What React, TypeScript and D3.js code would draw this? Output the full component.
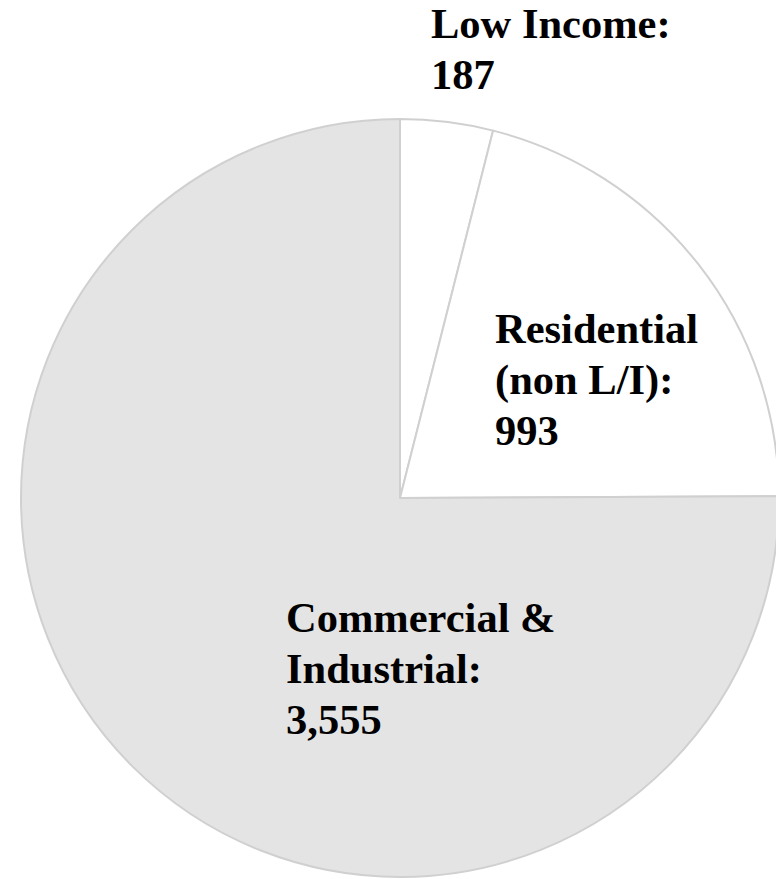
import React from "react";
import * as d3 from "d3";

const categories = ["Low Income", "Residential (non L/I)", "Commercial & Industrial"];
const values = [187, 993, 3555];
const labelLines = [
  ["Low Income:", "187"],
  ["Residential", "(non L/I):", "993"],
  ["Commercial &", "Industrial:", "3,555"],
];
const colors = ["#ffffff", "#ffffff", "#e4e4e4"];

const W = 776;
const H = 879;
const cx = 400;
const cy = 498;
const R = 379;

export default function App() {
  const data = categories.map((c, i) => ({ c, v: values[i], i }));
  const pie = d3.pie<any>().sort(null).value((d: any) => d.v).startAngle(0).endAngle(2 * Math.PI);
  const arcs = pie(data);
  const arc = d3.arc<any>().innerRadius(0).outerRadius(R);
  // label anchors (left x, first baseline y) relative to center
  const labelPos = [
    { x: 431 - cx, y: 38 - cy },
    { x: 495 - cx, y: 343 - cy },
    { x: 286 - cx, y: 632 - cy },
  ];
  const lh = 51;
  return (
    <svg
      width={W}
      height={H}
      style={{ position: "absolute", left: 0, top: 0, background: "#fff" }}
    >
      <g transform={`translate(${cx},${cy})`}>
        {arcs.map((a, i) => (
          <path
            key={i}
            d={arc(a) as string}
            fill={colors[i]}
            stroke="#d0d0d0"
            strokeWidth={2}
            strokeLinejoin="round"
          />
        ))}
        {labelLines.map((lines, i) => (
          <text
            key={i}
            x={labelPos[i].x}
            y={labelPos[i].y}
            fontFamily="'Liberation Serif', 'Times New Roman', serif"
            fontWeight="bold"
            fontSize={42.5}
            fill="#000"
          >
            {lines.map((l, j) => (
              <tspan key={j} x={labelPos[i].x} y={labelPos[i].y + j * lh}>
                {l}
              </tspan>
            ))}
          </text>
        ))}
      </g>
    </svg>
  );
}
